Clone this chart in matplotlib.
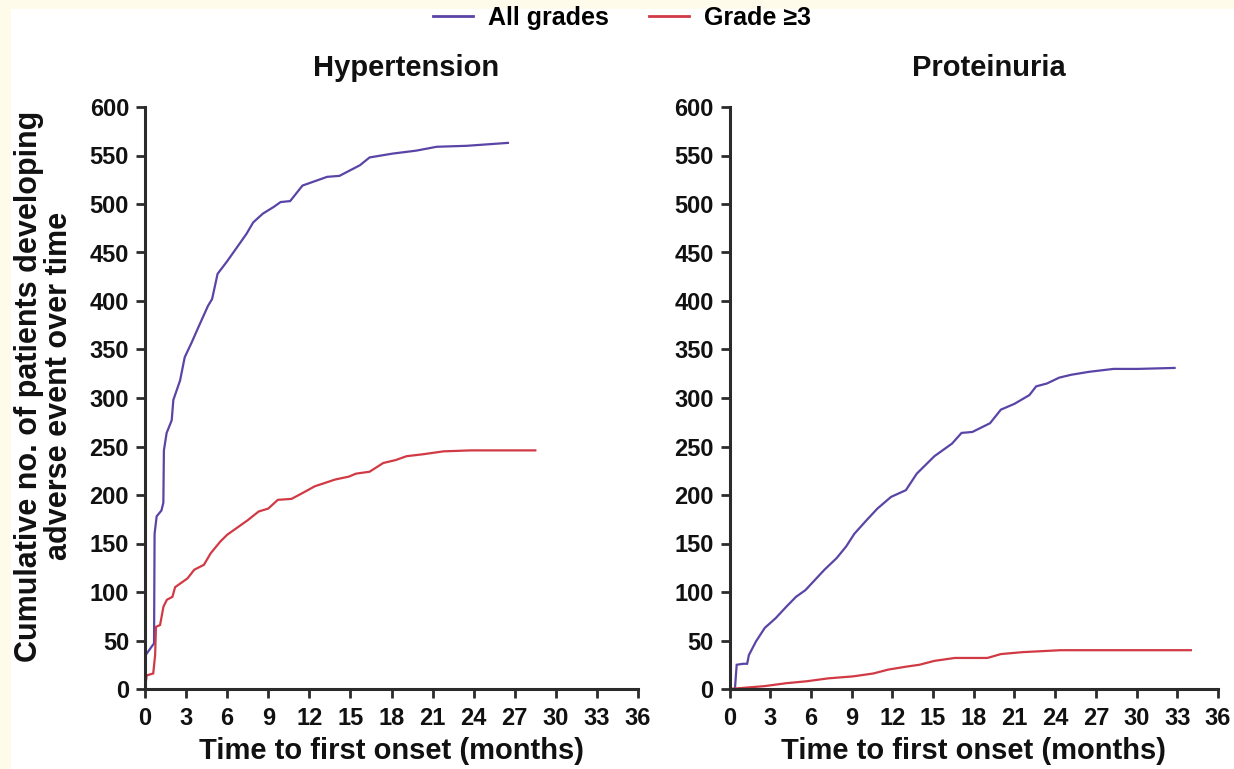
import matplotlib
matplotlib.use("Agg")
import matplotlib.pyplot as plt
from matplotlib.lines import Line2D
from matplotlib.patches import Rectangle

# Hypertension: time to first onset (months) vs cumulative patients
htn_all_t = [0, 0.02, 0.05, 0.5, 0.66, 0.7, 0.85, 1.2, 1.34, 1.38, 1.58, 1.95, 2.07,
             2.56, 2.9, 3.4, 3.9, 4.25, 4.6, 4.9, 5.3, 6.0, 6.7, 7.4, 7.9, 8.6, 9.4,
             9.9, 10.6, 11.5, 13.3, 14.2, 15.7, 16.4, 18.1, 19.8, 21.3, 23.5, 26.5]
htn_all_n = [0, 16, 35, 44, 47, 160, 178, 184, 192, 246, 264, 277, 298,
             318, 342, 357, 373, 384, 395, 402, 428, 441, 455, 469, 481, 490, 497,
             502, 503, 519, 528, 529, 540, 548, 552, 555, 559, 560, 563]

htn_g3_t = [0, 0.12, 0.6, 0.74, 0.8, 1.1, 1.35, 1.6, 2.0, 2.2, 3.1, 3.6, 4.3, 4.8,
            5.5, 6.0, 6.8, 7.5, 8.3, 9.0, 9.7, 10.7, 11.5, 12.4, 13.9, 14.9, 15.4,
            16.4, 17.4, 18.3, 19.1, 20.3, 21.8, 23.8, 28.5]
htn_g3_n = [0, 14, 16, 35, 64, 66, 85, 92, 95, 105, 114, 123, 128, 140,
            152, 159, 167, 174, 183, 186, 195, 196, 202, 209, 216, 219, 222,
            224, 233, 236, 240, 242, 245, 246, 246]

# Proteinuria
prot_all_t = [0, 0.4, 0.53, 1.0, 1.3, 1.43, 1.95, 2.6, 3.4, 4.2, 4.9, 5.6, 6.2, 7.0,
              7.9, 8.6, 9.2, 10.1, 10.9, 11.9, 13.0, 13.8, 15.1, 16.4, 17.1, 17.9,
              19.2, 20.0, 21.0, 22.1, 22.6, 23.4, 24.3, 25.2, 26.5, 28.3, 30.1, 32.8]
prot_all_n = [0, 0, 25, 26, 26, 35, 49, 63, 73, 85, 95, 102, 111, 123,
              135, 147, 160, 174, 186, 198, 205, 222, 240, 253, 264, 265,
              274, 288, 294, 303, 312, 315, 321, 324, 327, 330, 330, 331]

prot_g3_t = [0, 2.6, 4.2, 5.7, 7.3, 9.1, 10.6, 11.7, 13.0, 14.0, 15.1, 16.6, 19.0,
             20.0, 21.6, 24.4, 34.0]
prot_g3_n = [0, 3, 6, 8, 11, 13, 16, 20, 23, 25, 29, 32, 32,
             36, 38, 40, 40]

panels = [
    ("Hypertension", (htn_all_t, htn_all_n), (htn_g3_t, htn_g3_n)),
    ("Proteinuria", (prot_all_t, prot_all_n), (prot_g3_t, prot_g3_n)),
]

x_ticks = list(range(0, 37, 3))
y_ticks = list(range(0, 601, 50))

PURPLE = "#5a44a6"
RED = "#d13a44"
INK = "#111111"

plt.rcParams.update({
    "font.family": ["Liberation Sans", "DejaVu Sans"],
    "font.weight": "bold",
    "axes.linewidth": 2.2,
    "axes.edgecolor": "#2b2b2b",
    "xtick.major.size": 6.5,
    "ytick.major.size": 6.5,
    "xtick.major.width": 2.0,
    "ytick.major.width": 2.0,
    "xtick.color": "#2b2b2b",
    "ytick.color": "#2b2b2b",
})

W, H = 1234, 769
fig = plt.figure(figsize=(W / 100, H / 100), dpi=100, facecolor="#fffbea")
# white panel inside the cream frame
fig.patches.append(Rectangle((11 / W, 0), 1, 1 - 9 / H, transform=fig.transFigure,
                             facecolor="white", edgecolor="none", zorder=-10))

axes_px = [(145, 493), (729.5, 488.5)]
y_top, y_bot = 107, 689

for (x0, w), (title, allg, g3) in zip(axes_px, panels):
    ax = fig.add_axes([x0 / W, (H - y_bot) / H, w / W, (y_bot - y_top) / H])
    ax.set_facecolor("none")
    ax.plot(allg[0], allg[1], color=PURPLE, lw=1.6, solid_joinstyle="miter")
    ax.plot(g3[0], g3[1], color=RED, lw=1.6, solid_joinstyle="miter")

    ax.set_xlim(0, 36)
    ax.set_ylim(0, 600)
    ax.set_xticks(x_ticks)
    ax.set_yticks(y_ticks)
    ax.tick_params(axis="both", labelsize=17, labelcolor=INK)
    ax.tick_params(axis="x", pad=6.5)
    ax.tick_params(axis="y", pad=5)
    for lab in ax.get_xticklabels() + ax.get_yticklabels():
        lab.set_fontweight("bold")
    ax.spines["top"].set_visible(False)
    ax.spines["right"].set_visible(False)
    ax.margins(0)

    cx = (x0 + w / 2) / W
    fig.text(cx + 15 / W, 1 - 68 / H, title, ha="center", va="center",
             fontsize=21, fontweight="bold", color=INK)
    fig.text(cx, 1 - 751 / H, "Time to first onset (months)", ha="center",
             va="center", fontsize=21, fontweight="bold", color=INK)

fig.text(44 / W, 1 - 386 / H,
         "Cumulative no. of patients developing\nadverse event over time",
         rotation=90, ha="center", va="center", multialignment="center",
         fontsize=22, fontweight="bold", color=INK, linespacing=1.0)

handles = [Line2D([], [], color=PURPLE, lw=2),
           Line2D([], [], color=RED, lw=2)]
fig.legend(handles, ["All grades", "Grade \u22653"], loc="center",
           bbox_to_anchor=(622 / W, 1 - 18 / H), ncol=2, frameon=False,
           prop={"size": 18, "weight": "bold"}, handlelength=1.6,
           handletextpad=0.6, columnspacing=1.6)

fig.savefig("out.png", dpi=100, facecolor=fig.get_facecolor())
